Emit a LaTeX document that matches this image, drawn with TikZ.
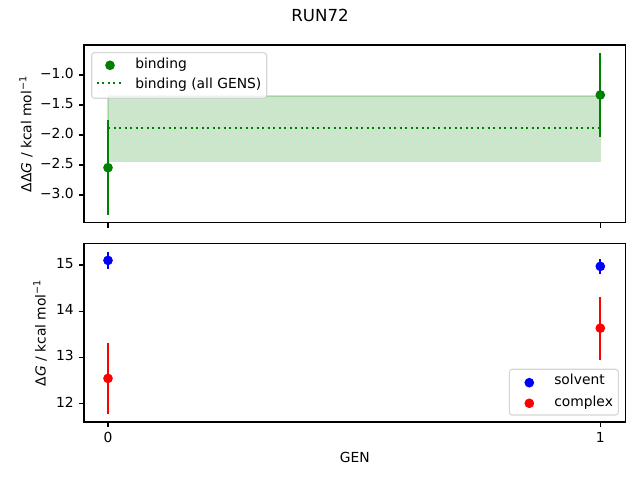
\documentclass[tikz,border=0pt]{standalone}
\usepackage{fontspec}
\setmainfont{DejaVu Sans}
\usetikzlibrary{positioning}
\definecolor{mplgreen}{HTML}{008000}
\definecolor{mplblue}{HTML}{0000FF}
\definecolor{mplred}{HTML}{FF0000}
\definecolor{legedge}{HTML}{CCCCCC}
\tikzset{
	spine/.style={line width=0.8pt, black},
	tick/.style={line width=0.8pt, black},
	ticklab/.style={inner sep=0pt, font=\fontsize{10}{12}\selectfont},
	errbar/.style={line width=1.5pt},
	allgens/.style={line width=1.5pt, mplgreen, dash pattern=on 1.5pt off 2.475pt},
	legbox/.style={draw=legedge, fill=white, fill opacity=0.8, draw opacity=0.8, line width=0.8pt, rounded corners=2pt},
	legtext/.style={inner sep=0pt, anchor=base west, font=\fontsize{10}{12}\selectfont}
}

\begin{document}
\begin{tikzpicture}[x=0.01in, y=-0.01in]
			\useasboundingbox (0,0) rectangle (640,480);

			\node[inner sep=0pt, anchor=base, font=\fontsize{12}{14}\selectfont] (title) at (320,22) {RUN72};

			% upper panel: binding free energy
			\fill[mplgreen, opacity=0.2] (108,{15-60*(-1.35)}) rectangle (600.3,{15-60*(-2.438)});
			\draw[mplgreen, opacity=0.2, line width=1pt] (108,{15-60*(-1.35)}) rectangle (600.3,{15-60*(-2.438)});
			\draw[allgens] (108,{15-60*(-1.88)}) -- (600.3,{15-60*(-1.88)});

			\foreach \g/\v/\e in {0/-2.545/0.79, 1/-1.333/0.695} {
				\draw[errbar, mplgreen]	({108+492.3*\g}, {15-60*(\v+\e)}) -- ({108+492.3*\g}, {15-60*(\v-\e)});
				\fill[mplgreen]	({108+492.3*\g}, {15-60*\v}) circle (3.5pt);
			}

			\draw[spine] (84,45) rectangle (625.7,222.7);
			\foreach \v/\t [count=\i] in {-1.0/−1.0, -1.5/−1.5, -2.0/−2.0, -2.5/−2.5, -3.0/−3.0} {
				\draw[tick] (84,{15-60*\v}) -- ++(-4.86,0)
					node[ticklab, anchor=mid east, xshift=-3.5pt] (ytop\i) {\t};
			}
			\foreach \g in {0,1} {
				\draw[tick] ({108+492.3*\g},222.7) -- ++(0,4.86);
			}
			\node[inner sep=0pt, anchor=base, rotate=90, font=\fontsize{10}{12}\selectfont] (ddglabel) at (31.5,133.9)
				{ΔΔ\textit{G} / kcal mol\textsuperscript{−1}};

			\draw[legbox] (91.7,52.7) rectangle (266.7,98.3);
			\fill[mplgreen] (110,65.3) circle (3.5pt);
			\node[legtext] (legbind) at (135,68.5) {binding};
			\draw[allgens] (96.7,83.3) -- (123.3,83.3);
			\node[legtext] (legall) at (135,88.3) {binding (all GENS)};

			% lower panel: solvent and complex
			\foreach \g/\v/\e in {0/15.10/0.185, 1/14.97/0.16} {
				\draw[errbar, mplblue]	({108+492.3*\g}, {956.5-46.1*(\v+\e)}) -- ({108+492.3*\g}, {956.5-46.1*(\v-\e)});
				\fill[mplblue]	({108+492.3*\g}, {956.5-46.1*\v}) circle (3.5pt);
			}
			\foreach \g/\v/\e in {0/12.54/0.775, 1/13.63/0.68} {
				\draw[errbar, mplred]	({108+492.3*\g}, {956.5-46.1*(\v+\e)}) -- ({108+492.3*\g}, {956.5-46.1*(\v-\e)});
				\fill[mplred]	({108+492.3*\g}, {956.5-46.1*\v}) circle (3.5pt);
			}

			\draw[spine] (84,243.3) rectangle (625.7,422);
			\foreach \v [count=\i] in {12,13,14,15} {
				\draw[tick] (84,{956.5-46.1*\v}) -- ++(-4.86,0)
					node[ticklab, anchor=mid east, xshift=-3.5pt] (ybot\i) {\v};
			}
			\foreach \g in {0,1} {
				\draw[tick] ({108+492.3*\g},422) -- ++(0,4.86)
					node[ticklab, anchor=north, yshift=-3.5pt] (xbot\g) {\g};
			}
			\node[inner sep=0pt, anchor=base, rotate=90, font=\fontsize{10}{12}\selectfont] (dglabel) at (45.5,332.7)
				{Δ\textit{G} / kcal mol\textsuperscript{−1}};
			\node[inner sep=0pt, anchor=base, font=\fontsize{10}{12}\selectfont] (genlabel) at (354.8,462.3) {GEN};

			\draw[legbox] (509.3,369.3) rectangle (618.3,415);
			\fill[mplblue] (529.3,382.7) circle (3.5pt);
			\node[legtext] (legsolv) at (554,385) {solvent};
			\fill[mplred] (529.3,403.3) circle (3.5pt);
			\node[legtext] (legcomp) at (554,406.7) {complex};
		\end{tikzpicture}
\end{document}
